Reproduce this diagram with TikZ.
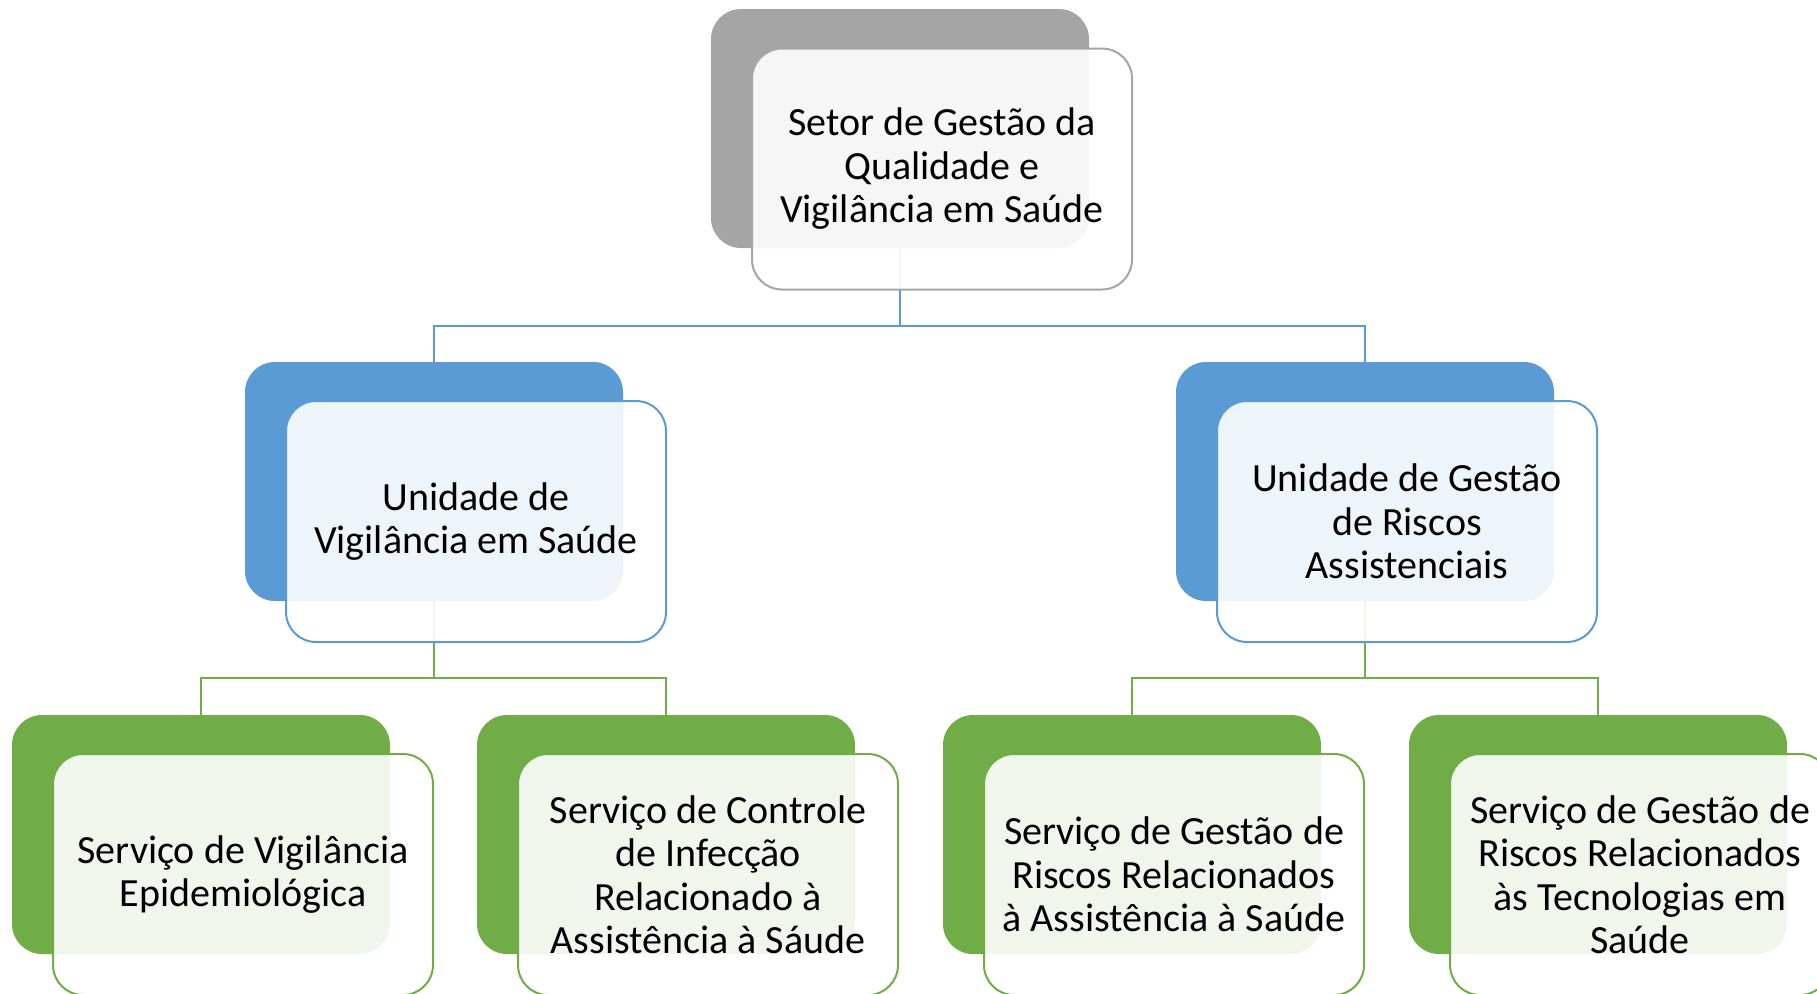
\documentclass[tikz,border=0pt]{standalone}
\usepackage{fontspec}
\setmainfont{Carlito}
\usepackage{tikz}

\definecolor{topgray}{HTML}{A5A5A5}
\definecolor{midblue}{HTML}{5B9BD5}
\definecolor{lowgreen}{HTML}{70AD47}

\tikzset{
    back/.style={rectangle, rounded corners=30pt, inner sep=0pt, minimum width=378pt, minimum height=239pt, fill=#1},
    front/.style={rectangle, rounded corners=30pt, inner sep=0pt, minimum width=380pt, minimum height=241pt, draw=#1, line width=2pt, fill=white, fill opacity=0.9, text opacity=1, align=center, font=\fontsize{40}{43.5}\selectfont},
    link/.style={line width=2pt, draw=#1}
}

\begin{document}
\begin{tikzpicture}[x=1pt, y=-1pt]
    \useasboundingbox (0, 0) rectangle (1817, 993);

    % back boxes
    \node[back=topgray] at (900, 128.5) (rootB) {};
    \node[back=midblue] at (434, 481.5) (L1N1B) {};
    \node[back=midblue] at (1365, 481.5) (L1N2B) {};
    \node[back=lowgreen] at (201, 834.5) (L2N1B) {};
    \node[back=lowgreen] at (666, 834.5) (L2N2B) {};
    \node[back=lowgreen] at (1132, 834.5) (L2N3B) {};
    \node[back=lowgreen] at (1598, 834.5) (L2N4B) {};

    % connectors
    \coordinate (J0) at (900, 326);
    \coordinate (J1) at (434, 678);
    \coordinate (J2) at (1365, 678);
    \draw[link=midblue] (rootB.south) -- (J0);
    \draw[link=midblue] (J0) -| (L1N1B.north);
    \draw[link=midblue] (J0) -| (L1N2B.north);
    \draw[link=lowgreen] (L1N1B.south) -- (J1);
    \draw[link=lowgreen] (J1) -| (L2N1B.north);
    \draw[link=lowgreen] (J1) -| (L2N2B.north);
    \draw[link=lowgreen] (L1N2B.south) -- (J2);
    \draw[link=lowgreen] (J2) -| (L2N3B.north);
    \draw[link=lowgreen] (J2) -| (L2N4B.north);

    % front boxes
    \node[front=topgray] at (942, 169) (root) {Setor de Gestão da\\Qualidade e\\Vigilância em Saúde};
    \node[front=midblue] at (476, 521.5) (L1N1) {Unidade de\\Vigilância em Saúde};
    \node[front=midblue] at (1407, 521.5) (L1N2) {Unidade de Gestão\\de Riscos\\Assistenciais};
    \node[front=lowgreen] at (243, 874.5) (L2N1) {Serviço de Vigilância\\Epidemiológica};
    \node[front=lowgreen] at (708, 874.5) (L2N2) {Serviço de Controle\\de Infecção\\Relacionado à\\Assistência à Sáude};
    \node[front=lowgreen] at (1174, 874.5) (L2N3) {Serviço de Gestão de\\Riscos Relacionados\\à Assistência à Saúde};
    \node[front=lowgreen] at (1640, 874.5) (L2N4) {Serviço de Gestão de\\Riscos Relacionados\\às Tecnologias em\\Saúde};
\end{tikzpicture}
\end{document}
